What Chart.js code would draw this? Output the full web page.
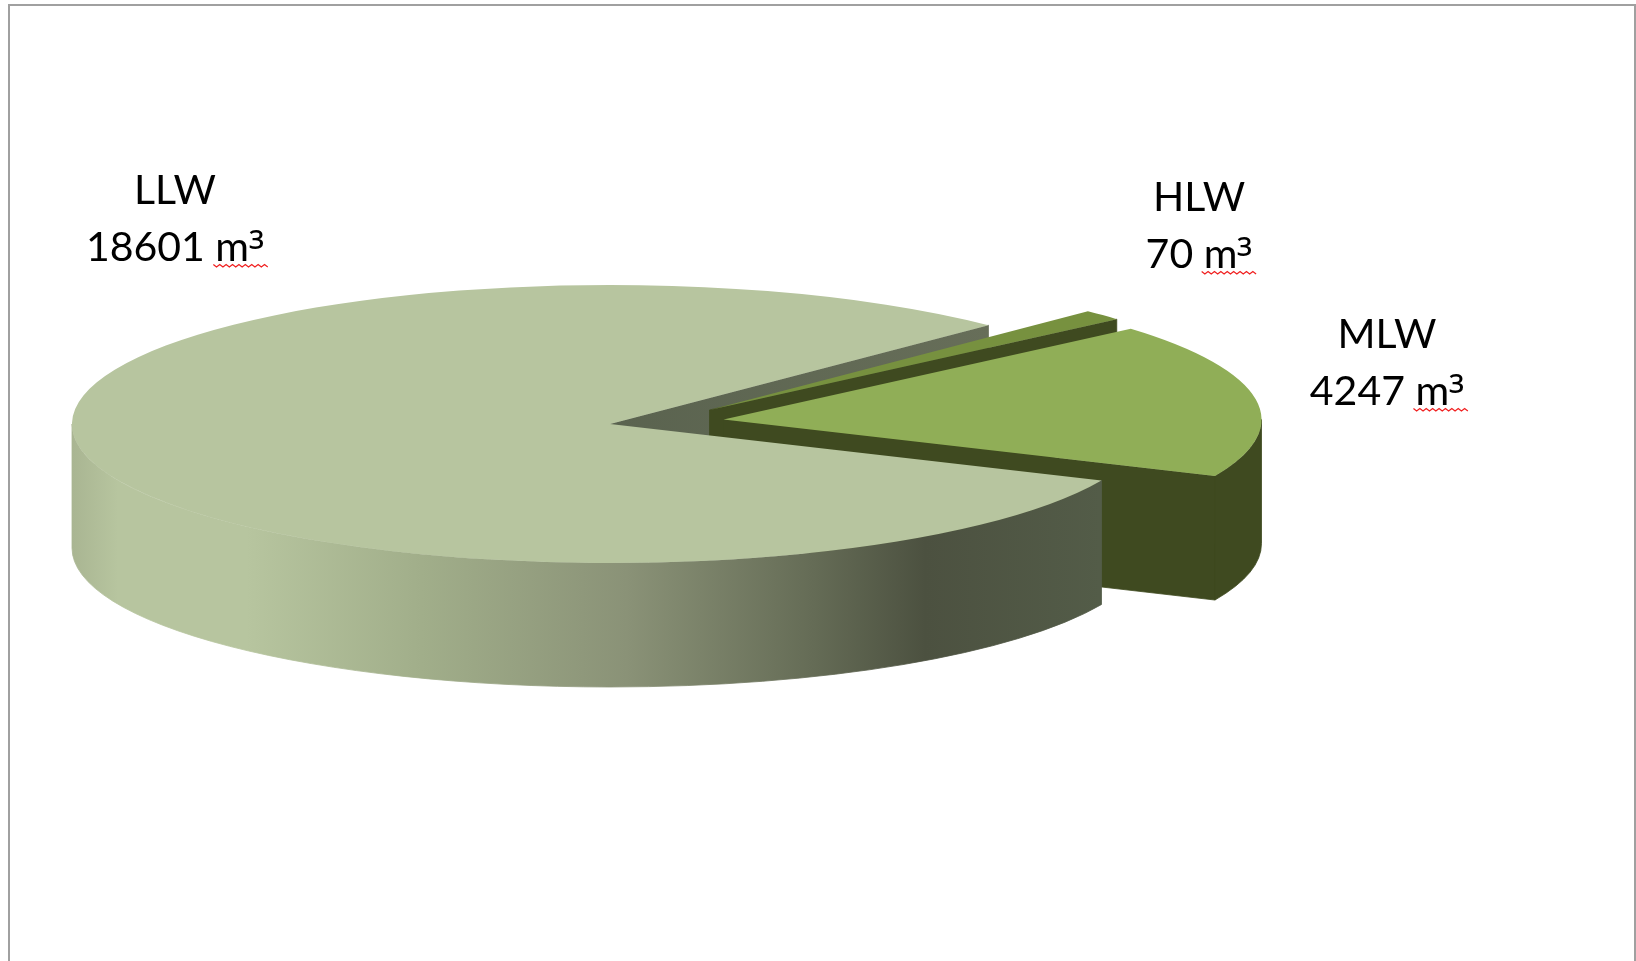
<!DOCTYPE html>
<html>
<head>
<meta charset="utf-8">
<title>Waste volumes</title>
<style>
  /* Lato's superscript three is too small next to the reference */
  @font-face {
    font-family: "BigCube";
    src: local("Open Sans");
    unicode-range: U+B3;
    size-adjust: 108%;
  }
  html, body { margin: 0; padding: 0; background: #fff; }
  canvas { display: block; }
</style>
</head>
<body>
<canvas id="pie" width="1636" height="961"></canvas>
<script src="https://cdn.jsdelivr.net/npm/chart.js@4"></script>
<script>
// clockwise from the back edge of LLW
const categories = ["HLW", "MLW", "LLW"];
const volumes = [70, 4247, 18601];
// slice sizes as drawn in the picture, in degrees (HLW is drawn wider than its volume)
const sliceDegrees = [4.5, 64.8, 290.7];
const topColors = ["#77913f", "#90ae57", "#b7c59f"];
const wallColors = ["#3f4a20", "#3f4a20", null];

// how the flat pie is laid down on the page
const CX = 610, CY = 424, RX = 538, RY = 139, DEPTH = 124;
const explodeX = [99.5, 113.5, 0];
const explodeY = [-14, -4.5, 0];
const labelX = [1199, 1387, 175];
const labelY = [211, 348, 204];
const LINE_GAP = 57;
const LABEL_FONT = '41px BigCube, Lato, "Noto Sans", sans-serif';

function point(i, angle, drop) {
  return [
    CX + explodeX[i] + RX * Math.cos(angle),
    CY + explodeY[i] + RY * Math.sin(angle) + drop,
  ];
}

function llwWallFill(ctx) {
  const g = ctx.createLinearGradient(72, 0, 1100, 0);
  const stops = [
    [0, "#a9b592"], [0.045, "#b7c59f"], [0.17, "#b7c59f"], [0.34, "#a1ae8a"],
    [0.54, "#8a9277"], [0.72, "#656c56"], [0.83, "#4c5140"], [1, "#535c48"],
  ];
  stops.forEach((s) => g.addColorStop(s[0], s[1]));
  return g;
}

function cutFill(ctx, i) {
  if (wallColors[i]) return wallColors[i];
  const g = ctx.createLinearGradient(CX, 0, CX + 380, 0);
  g.addColorStop(0, "#5a634f");
  g.addColorStop(1, "#676e59");
  return g;
}

function paint(ctx, fill) {
  // the thin stroke closes the seam between neighbouring faces
  ctx.fillStyle = fill;
  ctx.strokeStyle = fill;
  ctx.lineWidth = 0.8;
  ctx.fill();
  ctx.stroke();
}

function drawCutFace(ctx, i, angle) {
  const ax = CX + explodeX[i], ay = CY + explodeY[i];
  const rim = point(i, angle, 0);
  ctx.beginPath();
  ctx.moveTo(ax, ay);
  ctx.lineTo(rim[0], rim[1]);
  ctx.lineTo(rim[0], rim[1] + DEPTH);
  ctx.lineTo(ax, ay + DEPTH);
  ctx.closePath();
  paint(ctx, cutFill(ctx, i));
}

function drawOuterWall(ctx, i, from, to) {
  const ax = CX + explodeX[i], ay = CY + explodeY[i];
  ctx.beginPath();
  ctx.ellipse(ax, ay, RX, RY, 0, from, to);
  ctx.ellipse(ax, ay + DEPTH, RX, RY, 0, to, from, true);
  ctx.closePath();
  paint(ctx, wallColors[i] || llwWallFill(ctx));
}

const pie3d = {
  id: "pie3d",
  afterDatasetsUpdate(chart) {
    const arcs = chart.getDatasetMeta(0).data;
    const R = arcs[0].outerRadius;
    arcs.forEach((arc, i) => {
      arc.x += explodeX[i] * R / RX;
      arc.y += explodeY[i] * R / RY;
    });
  },
  beforeDraw(chart) {
    // sheet frame, open at the bottom
    const ctx = chart.ctx;
    ctx.save();
    ctx.strokeStyle = "#a0a0a0";
    ctx.lineWidth = 2;
    ctx.beginPath();
    ctx.moveTo(9, 961);
    ctx.lineTo(9, 5);
    ctx.lineTo(1635, 5);
    ctx.lineTo(1635, 961);
    ctx.stroke();
    ctx.restore();
  },
  beforeDatasetsDraw(chart) {
    const ctx = chart.ctx;
    const arcs = chart.getDatasetMeta(0).data;
    const area = chart.chartArea;
    const R = arcs[0].outerRadius;

    ctx.save();
    // LLW first so the exploded slices sit over its cut face
    [2, 0, 1].forEach((i) => {
      if (Math.cos(arcs[i].endAngle) > 0) drawCutFace(ctx, i, arcs[i].endAngle);
      if (Math.cos(arcs[i].startAngle) < 0) drawCutFace(ctx, i, arcs[i].startAngle);
    });
    [0, 1, 2].forEach((i) => {
      const from = Math.max(arcs[i].startAngle, 0);
      const to = Math.min(arcs[i].endAngle, Math.PI);
      if (to > from) drawOuterWall(ctx, i, from, to);
    });
    ctx.restore();

    ctx.save();
    ctx.translate(CX, CY);
    ctx.scale(RX / R, RY / R);
    ctx.translate(-(area.left + area.right) / 2, -(area.top + area.bottom) / 2);
  },
  afterDatasetsDraw(chart) {
    const ctx = chart.ctx;
    ctx.restore();

    ctx.save();
    ctx.font = LABEL_FONT;
    ctx.fillStyle = "#000";
    ctx.textAlign = "center";
    ctx.textBaseline = "alphabetic";
    categories.forEach((name, i) => {
      const line = `${volumes[i]} m³`;
      ctx.fillText(name, labelX[i], labelY[i]);
      ctx.fillText(line, labelX[i], labelY[i] + LINE_GAP);

      // spell checker squiggle below the unit
      const full = ctx.measureText(line).width;
      const unit = ctx.measureText("m³").width;
      const right = labelX[i] + full / 2 + 3;
      const left = right - unit - 5;
      const y = labelY[i] + LINE_GAP + 3.5;
      ctx.strokeStyle = "#f02020";
      ctx.lineWidth = 1.3;
      ctx.beginPath();
      ctx.moveTo(left, y);
      for (let x = left, k = 1; x < right; x += 3.2, k++) {
        ctx.lineTo(x + 3.2, y + (k % 2 ? 2.4 : 0));
      }
      ctx.stroke();
    });
    ctx.restore();
  },
};

function drawChart() {
  new Chart(document.getElementById("pie"), {
    type: "pie",
    data: {
      labels: categories,
      datasets: [
        {
          data: sliceDegrees,
          backgroundColor: topColors,
          borderWidth: 0,
          clip: false,
        },
      ],
    },
    options: {
      responsive: false,
      animation: false,
      rotation: 44.7,
      layout: { padding: 0 },
      events: [],
      plugins: { legend: { display: false }, tooltip: { enabled: false } },
    },
    plugins: [pie3d],
  });
}

document.fonts.load(LABEL_FONT, "m³").then(drawChart, drawChart);
</script>
</body>
</html>
